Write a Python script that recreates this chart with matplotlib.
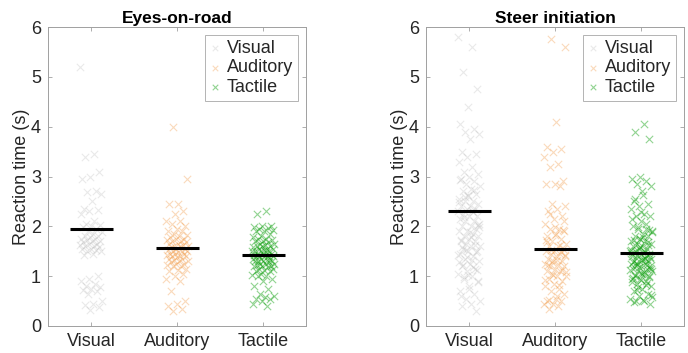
import numpy as np
import matplotlib
matplotlib.use("Agg")
import matplotlib.pyplot as plt

plt.rcParams['font.family'] = ['Liberation Sans', 'DejaVu Sans']

categories = ["Visual", "Auditory", "Tactile"]
titles = ["Eyes-on-road", "Steer initiation"]

eyes_visual = [5.2, 3.45, 3.4, 3.1, 3.0, 2.95, 2.7, 2.68, 2.65, 2.5, 2.35, 2.32, 2.3, 2.25,
               2.1, 2.05, 2.02, 2.0, 1.98, 1.95, 1.9, 1.88, 1.85, 1.8, 1.8, 1.78, 1.75, 1.75,
               1.72, 1.7, 1.7, 1.68, 1.65, 1.65, 1.62, 1.6, 1.6, 1.58, 1.55, 1.55, 1.52, 1.5,
               1.5, 1.45, 1.42, 1.0, 0.95, 0.9, 0.85, 0.8, 0.78, 0.75, 0.72, 0.7, 0.65, 0.5,
               0.45, 0.42, 0.38, 0.33]
eyes_auditory = [4.0, 2.95, 2.45, 2.45, 2.3, 2.25, 2.1, 2.1, 2.05, 2.0, 1.95, 1.9, 1.9, 1.85,
                 1.82, 1.8, 1.78, 1.75, 1.75, 1.72, 1.7, 1.7, 1.68, 1.65, 1.65, 1.62, 1.6, 1.6,
                 1.6, 1.58, 1.55, 1.55, 1.52, 1.5, 1.5, 1.5, 1.48, 1.45, 1.45, 1.45, 1.42, 1.4,
                 1.4, 1.4, 1.38, 1.35, 1.35, 1.32, 1.3, 1.3, 1.28, 1.25, 1.25, 1.22, 1.2, 1.2,
                 1.15, 1.12, 1.1, 1.05, 1.0, 0.95, 0.9, 0.7, 0.5, 0.45, 0.4, 0.35, 0.3]
eyes_tactile = [2.3, 2.25, 2.0, 2.0, 1.98, 1.97, 1.95, 1.92, 1.9, 1.9, 1.85, 1.8, 1.78, 1.75,
                1.75, 1.72, 1.7, 1.7, 1.68, 1.65, 1.65, 1.62, 1.6, 1.6, 1.6, 1.58, 1.55, 1.55,
                1.55, 1.52, 1.5, 1.5, 1.5, 1.5, 1.48, 1.45, 1.45, 1.45, 1.42, 1.4, 1.4, 1.4,
                1.4, 1.38, 1.35, 1.35, 1.35, 1.32, 1.3, 1.3, 1.3, 1.3, 1.28, 1.25, 1.25, 1.25,
                1.22, 1.2, 1.2, 1.2, 1.18, 1.15, 1.15, 1.12, 1.1, 1.1, 1.05, 1.02, 1.0, 1.0,
                0.95, 0.9, 0.8, 0.75, 0.65, 0.6, 0.58, 0.55, 0.55, 0.5, 0.45, 0.4]

steer_visual = [5.8, 5.6, 5.1, 4.75, 4.4, 4.05, 3.95, 3.9, 3.85, 3.75, 3.5, 3.45, 3.4, 3.3,
                3.2, 3.1, 3.05, 3.0, 2.95, 2.9, 2.85, 2.8, 2.75, 2.7, 2.65, 2.6, 2.55, 2.5,
                2.5, 2.45, 2.4, 2.4, 2.35, 2.35, 2.3, 2.3, 2.25, 2.2, 2.2, 2.15, 2.1, 2.1, 2.05,
                2.0, 2.0, 1.95, 1.9, 1.9, 1.85, 1.8, 1.8, 1.75, 1.7, 1.7, 1.65, 1.6, 1.6, 1.55,
                1.5, 1.5, 1.45, 1.4, 1.35, 1.3, 1.25, 1.2, 1.15, 1.1, 1.05, 1.0, 0.95, 0.9,
                0.8, 0.7, 0.65, 0.55, 0.5, 0.45, 0.4, 0.3, 2.62, 2.48, 2.28, 2.18, 2.02, 1.88,
                1.72, 1.62, 1.52, 1.42, 1.32, 1.22, 1.12, 1.02, 2.92, 2.72, 2.58, 1.98, 1.78,
                1.58, 1.48, 1.38, 1.28, 1.18, 0.98, 0.88, 0.75, 0.6]
steer_auditory = [5.75, 5.6, 4.1, 3.6, 3.55, 3.5, 3.4, 3.25, 3.2, 2.9, 2.85, 2.85, 2.8, 2.45,
                  2.4, 2.35, 2.3, 2.2, 2.15, 2.05, 1.95, 1.95, 1.9, 1.85, 1.8, 1.75, 1.7, 1.65,
                  1.6, 1.6, 1.55, 1.5, 1.5, 1.45, 1.45, 1.4, 1.4, 1.35, 1.3, 1.3, 1.25, 1.25,
                  1.2, 1.2, 1.15, 1.1, 1.1, 1.05, 1.0, 1.0, 0.95, 0.9, 0.85, 0.8, 0.75, 0.7,
                  0.65, 0.55, 0.5, 0.5, 0.45, 0.45, 0.4, 0.35, 1.92, 1.82, 1.72, 1.62, 1.52,
                  1.42, 1.32, 1.22, 1.12, 1.02, 0.92, 0.82, 2.25, 2.1, 1.98, 1.68, 1.48, 1.28,
                  1.08, 0.6, 0.52]
steer_tactile = [4.05, 3.9, 3.75, 2.98, 2.95, 2.9, 2.85, 2.8, 2.7, 2.5, 2.45, 2.4, 2.35, 2.25,
                 2.2, 2.2, 2.1, 2.0, 1.95, 1.95, 1.9, 1.85, 1.8, 1.8, 1.75, 1.7, 1.7, 1.65, 1.65,
                 1.6, 1.6, 1.55, 1.55, 1.5, 1.5, 1.5, 1.45, 1.45, 1.4, 1.4, 1.4, 1.35, 1.35, 1.3,
                 1.3, 1.3, 1.25, 1.25, 1.2, 1.2, 1.2, 1.15, 1.15, 1.1, 1.1, 1.05, 1.0, 1.0, 0.95,
                 0.95, 0.9, 0.85, 0.8, 0.75, 0.7, 0.65, 0.6, 0.55, 0.5, 0.5, 0.45, 2.28, 2.15,
                 2.05, 1.98, 1.88, 1.78, 1.72, 1.62, 1.58, 1.52, 1.48, 1.42, 1.38, 1.32, 1.28,
                 1.22, 1.18, 1.12, 1.08, 1.02, 0.98, 0.92, 0.88, 0.82, 0.72, 0.62, 0.52, 0.48,
                 1.68, 1.56, 1.46, 1.36, 1.26, 1.16, 1.06, 0.96, 0.86, 0.78, 0.58, 2.62, 2.55,
                 1.92, 1.75, 1.44, 1.34, 1.24, 1.14, 1.04]

eyes_means = [1.94, 1.57, 1.43]
steer_means = [2.30, 1.54, 1.47]

panels = [
    (titles[0], [eyes_visual, eyes_auditory, eyes_tactile], eyes_means),
    (titles[1], [steer_visual, steer_auditory, steer_tactile], steer_means),
]

colors = [(0.72, 0.72, 0.72), (0.95, 0.62, 0.30), (0.05, 0.62, 0.05)]
alphas = [0.30, 0.38, 0.45]
text_color = '#262626'
spine_color = '#a0a0a0'

fig = plt.figure(figsize=(6.88, 3.53), dpi=100)
positions = [[48/688, 27/353, 258/688, 299/353], [426/688, 27/353, 258/688, 299/353]]
positions = [[p[0], 1 - p[1] - p[3], p[2], p[3]] for p in positions]

golden = 0.6180339887
for ax_pos, (title, groups, means) in zip(positions, panels):
    ax = fig.add_axes(ax_pos)
    for gi, vals in enumerate(groups):
        vals = np.asarray(vals)
        k = np.arange(len(vals))
        jit = 0.13 * (2 * ((k * golden + 0.31 * gi) % 1.0) - 1)
        ax.scatter(gi + 1 + jit, vals, marker='x', s=28, linewidths=0.8,
                   color=colors[gi], alpha=alphas[gi], label=categories[gi], zorder=2)
    for gi, m in enumerate(means):
        ax.plot([gi + 1 - 0.25, gi + 1 + 0.25], [m, m], color='black', lw=2.2,
                solid_capstyle='butt', zorder=3)
    ax.set_xlim(0.5, 3.5)
    ax.set_ylim(0, 6)
    ax.set_xticks([1, 2, 3])
    ax.set_xticklabels(categories)
    ax.set_yticks(range(0, 7))
    ax.tick_params(direction='in', length=3, width=0.6, colors=spine_color,
                   labelcolor=text_color, labelsize=13, top=True, right=True, pad=5)
    for s in ax.spines.values():
        s.set_color(spine_color)
        s.set_linewidth(0.7)
    ax.set_ylabel('Reaction time (s)', fontsize=13, color=text_color, labelpad=1)
    ax.set_title(title, fontsize=12.5, fontweight='bold', color='black', pad=3)
    leg = ax.legend(loc='upper right', fontsize=13, frameon=True, fancybox=False,
                    handletextpad=0.3, handlelength=0.7, borderpad=0.25,
                    labelspacing=0.15, borderaxespad=0.45, scatterpoints=1,
                    markerscale=0.75)
    leg.get_frame().set_edgecolor(spine_color)
    leg.get_frame().set_linewidth(0.7)
    for t in leg.get_texts():
        t.set_color(text_color)

fig.savefig('out.png', dpi=100)
